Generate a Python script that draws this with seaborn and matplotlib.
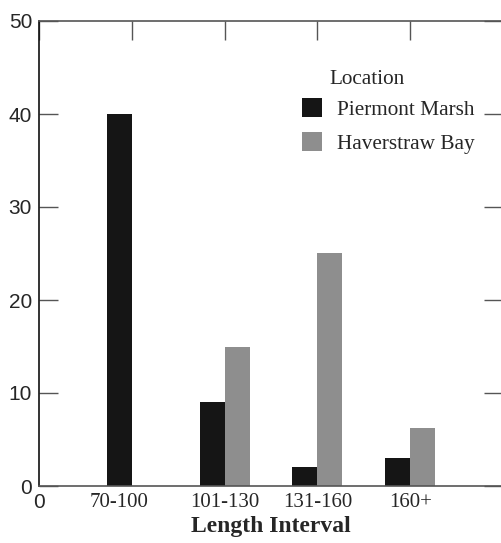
import pandas as pd
import matplotlib.pyplot as plt
import matplotlib.transforms as mtransforms
import seaborn as sns

intervals = ["70-100", "101-130", "131-160", "160+"]
piermont = [40, 9, 2, 3]
haverstraw = [0, 15, 25, 6.2]

df = pd.DataFrame({
    "Interval": intervals * 2,
    "Count": piermont + haverstraw,
    "Location": ["Piermont Marsh"] * 4 + ["Haverstraw Bay"] * 4,
})

sns.set_style("ticks")
plt.rcParams["font.family"] = ["Liberation Serif", "DejaVu Serif"]

fig = plt.figure(figsize=(5.01, 5.43), dpi=100)
ax = fig.add_axes([39 / 501, 57 / 543, 464 / 501, 465 / 543])

sns.barplot(data=df, x="Interval", y="Count", hue="Location", order=intervals,
            palette=["#151515", "#8e8e8e"], width=0.54, saturation=1,
            linewidth=0, ax=ax)

ax.set_xlim(-1, 4)
ax.set_ylim(0, 50)

# y axis: sans-serif labels, ticks inward on both sides
ax.set_yticks([0, 10, 20, 30, 40, 50])
ax.set_yticklabels(["0", "10", "20", "30", "40", "50"], family="Liberation Sans", fontsize=15)
ax.tick_params(axis="y", direction="in", length=14, width=1, color="#555555",
               left=True, right=True, pad=5)

# x axis: category labels below, tick marks only on top
ax.set_xticks([-1, 0, 1, 2, 3])
ax.set_xticklabels(["0"] + intervals, fontsize=15)
ax.tick_params(axis="x", direction="in", length=14, width=1, color="#555555",
               bottom=False, top=True, pad=5)
xl = ax.get_xticklabels()
xl[0].set_family("Liberation Sans")
xl[0].set_fontsize(15)
shift = mtransforms.ScaledTranslation(-13 / 100, 0, fig.dpi_scale_trans)
xl[1].set_transform(xl[1].get_transform() + shift)

for side in ["left", "bottom", "top", "right"]:
    ax.spines[side].set_visible(True)
    ax.spines[side].set_color("#555555")
    ax.spines[side].set_linewidth(1.2)
ax.spines["left"].set_color("#111111")

ax.set_ylabel("")
ax.set_xlabel("Length Interval", fontsize=17, fontweight="bold", labelpad=3)

leg = ax.legend(loc="upper left", bbox_to_anchor=(0.567, 0.834),
                frameon=False, fontsize=15.3,
                handlelength=0.95, handleheight=0.95, handletextpad=0.7,
                labelspacing=0.6, borderaxespad=0, borderpad=0)
fig.text(329 / 501, 1 - 79 / 543, "Location", fontsize=15.3, ha="left", va="center")

fig.savefig("out.png", dpi=100)
